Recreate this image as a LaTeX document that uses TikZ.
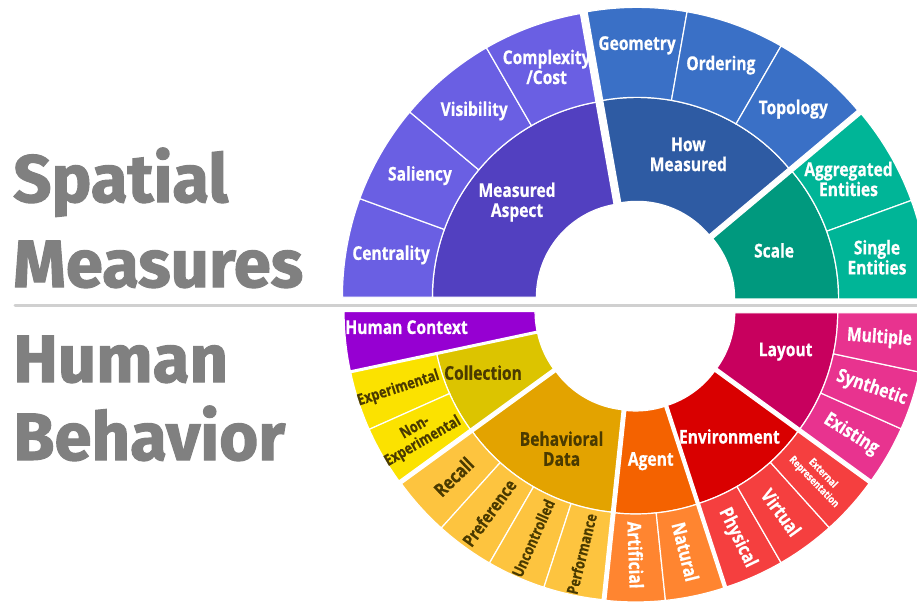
\documentclass[tikz,border=0pt]{standalone}
\usepackage{fontspec}
\setmainfont{Open Sans}
\newfontfamily\titlefont[FakeBold=1.6]{Fira Sans}
\newfontfamily\segfont[FakeStretch=0.82, FakeBold=0.5]{Open Sans}

\definecolor{titlegray}{HTML}{808080}
\definecolor{rulegray}{HTML}{D0D0D0}
\definecolor{labeldark}{HTML}{4A3A00}
\definecolor{maInner}{HTML}{5240C0}
\definecolor{maOuter}{HTML}{6A5FE3}
\definecolor{hmInner}{HTML}{2E5BA3}
\definecolor{hmOuter}{HTML}{3A70C6}
\definecolor{scInner}{HTML}{00997E}
\definecolor{scOuter}{HTML}{00B597}
\definecolor{hcColor}{HTML}{9600D2}
\definecolor{coInner}{HTML}{DCC400}
\definecolor{coOuter}{HTML}{FBE200}
\definecolor{bdInner}{HTML}{E3A300}
\definecolor{bdOuter}{HTML}{FDC43F}
\definecolor{agInner}{HTML}{F46200}
\definecolor{agOuter}{HTML}{FF8530}
\definecolor{enInner}{HTML}{D90000}
\definecolor{enOuter}{HTML}{F53F3F}
\definecolor{laInner}{HTML}{C8005E}
\definecolor{laOuter}{HTML}{E8338F}

% ring segment: inner radius, outer radius, start angle, end angle, colour
\newcommand{\ringseg}[5]{%
  \path[fill=#5, draw=white, line width=1.2pt]
    (#3:#1pt) arc[start angle=#3, end angle=#4, radius=#1pt]
    -- (#4:#2pt) arc[start angle=#4, end angle=#3, radius=#2pt] -- cycle;}

\begin{document}
\begin{tikzpicture}[
x=1pt, y=1pt,
titletext/.style={font=\titlefont\bfseries\fontsize{67}{67}\selectfont, text=titlegray, anchor=base west, inner sep=0pt},
seglabel/.style={font=\segfont\bfseries\fontsize{19}{20}\selectfont, text=white, align=center, inner sep=0pt},
smalllabel/.style={seglabel, font=\segfont\bfseries\fontsize{15.5}{16}\selectfont},
tinylabel/.style={seglabel, font=\segfont\bfseries\fontsize{10.5}{12.5}\selectfont},
darklabel/.style={text=labeldark},
]
\clip (0,0) rectangle (917,-602);

%Titles
\node[titletext] (spatial)  at (13,-202) {Spatial};
\node[titletext] (measures) at (13,-287) {Measures};
\node[titletext] (human)    at (13,-382) {Human};
\node[titletext] (behavior) at (13,-460) {Behavior};
\draw[rulegray, line width=3pt, line cap=round] (15,-305) -- (917,-305);

%Spatial measures (top half)
\begin{scope}[shift={(635,-301)}, shift={(140:6pt)}]
\ringseg{94}{198}{100}{180}{maInner}
\ringseg{198}{288}{160}{180}{maOuter}
\ringseg{198}{288}{140}{160}{maOuter}
\ringseg{198}{288}{120}{140}{maOuter}
\ringseg{198}{288}{100}{120}{maOuter}
\node[seglabel] (aspect)     at (140:148pt) {Measured\\Aspect};
\node[seglabel] (centrality) at (170:243pt) {Centrality};
\node[seglabel] (saliency)   at (150:243pt) {Saliency};
\node[seglabel] (visibility) at (130:243pt) {Visibility};
\node[seglabel] (complexity) at (110:245pt) {Complexity\\/Cost};
\end{scope}

\begin{scope}[shift={(635,-301)}, shift={(70:6pt)}]
\ringseg{94}{198}{40}{100}{hmInner}
\ringseg{198}{288}{80}{100}{hmOuter}
\ringseg{198}{288}{60}{80}{hmOuter}
\ringseg{198}{288}{40}{60}{hmOuter}
\node[seglabel] (howmeasured) at (70:150pt) {How\\Measured};
\node[seglabel] (geometry)    at (90:250pt) {Geometry};
\node[seglabel] (ordering)    at (70:245pt) {Ordering};
\node[seglabel] (topology)    at (50:243pt) {Topology};
\end{scope}

\begin{scope}[shift={(635,-301)}, shift={(20:6pt)}]
\ringseg{94}{198}{0}{40}{scInner}
\ringseg{198}{288}{20}{40}{scOuter}
\ringseg{198}{288}{0}{20}{scOuter}
\node[seglabel] (scale)      at (20:142pt) {Scale};
\node[seglabel] (aggregated) at (30:240pt) {Aggregated\\Entities};
\node[seglabel] (single)     at (10:240pt) {Single\\Entities};
\end{scope}

%Human behavior (bottom half)
\begin{scope}[shift={(635,-311)}, shift={(186:6pt)}]
\ringseg{94}{285}{180}{192}{hcColor}
\node[seglabel] (context) at (184:223pt) {Human Context};
\end{scope}

\begin{scope}[shift={(635,-311)}, shift={(204:6pt)}]
\ringseg{94}{197}{192}{216}{coInner}
\ringseg{197}{285}{192}{204}{coOuter}
\ringseg{197}{285}{204}{216}{coOuter}
\node[seglabel, darklabel]  (collection)   at (202:158pt) {Collection};
\node[smalllabel, darklabel, rotate=18] (experimental) at (198:243pt) {Experimental};
\node[smalllabel, darklabel, rotate=30] (nonexp)       at (210:243pt) {Non-\\Experimental};
\end{scope}

\begin{scope}[shift={(635,-311)}, shift={(240:6pt)}]
\ringseg{94}{197}{216}{264}{bdInner}
\ringseg{197}{285}{216}{228}{bdOuter}
\ringseg{197}{285}{228}{240}{bdOuter}
\ringseg{197}{285}{240}{252}{bdOuter}
\ringseg{197}{285}{252}{264}{bdOuter}
\node[seglabel, darklabel] (behavioral) at (242:150pt) {Behavioral\\Data};
\node[seglabel, darklabel, rotate=44]  (recall)       at (222:240pt) {Recall};
\node[seglabel, darklabel, rotate=54, font=\segfont\bfseries\fontsize{17.5}{18}\selectfont] (preference) at (234:243pt) {Preference};
\node[smalllabel, darklabel, rotate=66] (uncontrolled) at (246:243pt) {Uncontrolled};
\node[smalllabel, darklabel, rotate=76] (performance)  at (258:243pt) {Performance};
\end{scope}

\begin{scope}[shift={(635,-311)}, shift={(276:6pt)}]
\ringseg{94}{197}{264}{288}{agInner}
\ringseg{197}{285}{264}{276}{agOuter}
\ringseg{197}{285}{276}{288}{agOuter}
\node[seglabel] (agent)                 at (276:145pt) {Agent};
\node[seglabel, rotate=-88] (artificial) at (270:238pt) {Artificial};
\node[seglabel, rotate=-76] (natural)    at (282:240pt) {Natural};
\end{scope}

\begin{scope}[shift={(635,-311)}, shift={(306:6pt)}]
\ringseg{94}{197}{288}{324}{enInner}
\ringseg{197}{285}{288}{300}{enOuter}
\ringseg{197}{285}{300}{312}{enOuter}
\ringseg{197}{285}{312}{324}{enOuter}
\node[seglabel] (environment)           at (307:151pt) {Environment};
\node[seglabel, rotate=-64] (physical)   at (294:243pt) {Physical};
\node[seglabel, rotate=-54] (virtual)    at (306:243pt) {Virtual};
\node[tinylabel, rotate=-46] (external)  at (318:242pt) {External\\Representation};
\end{scope}

\begin{scope}[shift={(635,-311)}, shift={(342:6pt)}]
\ringseg{94}{197}{324}{360}{laInner}
\ringseg{197}{285}{324}{336}{laOuter}
\ringseg{197}{285}{336}{348}{laOuter}
\ringseg{197}{285}{348}{360}{laOuter}
\node[seglabel] (layout)                at (345:150pt) {Layout};
\node[seglabel, rotate=-32] (existing)  at (330:243pt) {Existing};
\node[seglabel, rotate=-19] (synthetic) at (342:243pt) {Synthetic};
\node[seglabel, rotate=-4]  (multiple)  at (354:240pt) {Multiple};
\end{scope}

\end{tikzpicture}
\end{document}
